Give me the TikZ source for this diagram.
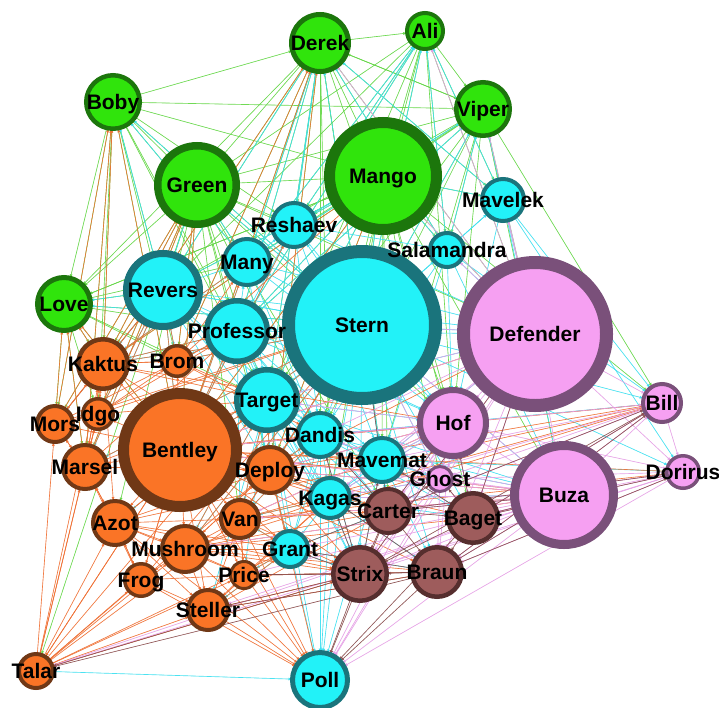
\documentclass[tikz,border=0pt]{standalone}
\usepackage{fontspec}
\setmainfont{Liberation Sans}
\usetikzlibrary{arrows.meta}
\pgfdeclarelayer{edges}
\pgfsetlayers{edges,main}
\definecolor{gF}{RGB}{48,228,12}
\definecolor{gD}{RGB}{28,118,12}
\definecolor{cF}{RGB}{34,242,248}
\definecolor{cD}{RGB}{26,116,124}
\definecolor{oF}{RGB}{250,116,38}
\definecolor{oD}{RGB}{112,56,22}
\definecolor{pF}{RGB}{246,160,242}
\definecolor{pD}{RGB}{122,80,122}
\definecolor{bF}{RGB}{158,92,92}
\definecolor{bD}{RGB}{86,46,46}
\definecolor{eGc}{RGB}{100,215,70}
\definecolor{eCc}{RGB}{60,224,240}
\definecolor{eOc}{RGB}{240,112,52}
\definecolor{ePc}{RGB}{230,160,230}
\definecolor{eBc}{RGB}{140,80,80}
\tikzset{
  nd/.style={circle, inner sep=0pt, outer sep=0pt},
  Gn/.style={nd, fill=gF, draw=gD},
  Cn/.style={nd, fill=cF, draw=cD},
  On/.style={nd, fill=oF, draw=oD},
  Pn/.style={nd, fill=pF, draw=pD},
  Bn/.style={nd, fill=bF, draw=bD},
  lbl/.style={font=\bfseries\fontsize{21}{21}\selectfont, inner sep=0pt, text height=15pt, text depth=0pt, text=black},
  edgebase/.style={line width=0.65pt, opacity=0.9, -{Latex[length=4pt,width=3pt]}},
  eG/.style={edgebase, draw=eGc, fill=eGc},
  eC/.style={edgebase, draw=eCc, fill=eCc},
  eO/.style={edgebase, draw=eOc, fill=eOc},
  eP/.style={edgebase, draw=ePc, fill=ePc},
  eB/.style={edgebase, draw=eBc, fill=eBc},
}
\begin{document}
\begin{tikzpicture}[x=1pt, y=-1pt]
\useasboundingbox (0,0) rectangle (719,707);
\foreach \n/\x/\y/\r/\w/\g in {
 Derek/320/43/31/5/Gn, Ali/425/31/20/4/Gn, Boby/113/102/29/4.5/Gn,
 Viper/483/109/29/4.5/Gn, Green/197/185/43/7.5/Gn, Mango/383/176/59/11/Gn,
 Love/64/304/29/5/Gn,
 Mavelek/503/200/23/4/Cn, Reshaev/294/225/24/4/Cn, Salamandra/447/250/19/4/Cn,
 Many/247/262/25/4/Cn, Stern/362/325/80/13/Cn, Revers/163/290/40/7/Cn,
 Professor/237/331/33/5.5/Cn, Target/267/400/33/5.5/Cn, Dandis/320/435/24/4/Cn,
 Mavemat/382/460/24/4/Cn, Kagas/330/498/22/4/Cn, Grant/290/549/20/4/Cn,
 Poll/320/680/30/5/Cn,
 Defender/535/334/78/13/Pn, Hof/453/423/36/6/Pn, Bill/662/403/21/4/Pn,
 Dorirus/683/472/18/3.5/Pn, Ghost/440/479/14/3/Pn, Buza/564/495/54/9/Pn,
 Carter/388/511/24/4/Bn, Baget/473/518/27/4.5/Bn, Braun/437/572/27/4.5/Bn,
 Strix/360/574/29/4.5/Bn,
 Kaktus/103/364/27/4.5/On, Brom/177/361/17/3.5/On, Mors/55/424/20/4/On,
 Idgo/98/414/17/3.5/On, Bentley/180/450/62/11/On, Marsel/85/467/24/4/On,
 Deploy/270/470/25/4/On, Azot/115/523/24/4/On, Van/240/519/21/4/On,
 Mushroom/185/549/25/4/On, Frog/141/580/18/3.5/On, Price/244/575/15/3/On,
 Steller/208/610/22/4/On, Talar/36/671/19/4/On}
{
  \node[\g, line width=\w pt, minimum size={2*\r*1pt-\w*1pt}] (\n) at (\x,\y) {};
}
\begin{pgfonlayer}{edges}
\fill[white] (0,0) rectangle (719,707);
\foreach \s/\tl in {
 Derek/{Ali,Green,Mango,Reshaev,Many,Revers,Professor,Stern,Target,Love,Salamandra,Mavelek,Viper,Kaktus,Brom,Dandis,Bentley,Deploy,Hof,Defender,Mavemat,Kagas},
 Ali/{Mango,Viper,Stern,Reshaev,Green,Many,Salamandra,Mavelek,Professor,Revers,Defender,Hof,Target,Dandis},
 Boby/{Derek,Green,Mango,Love,Revers,Kaktus,Mors,Marsel,Idgo,Many,Professor,Reshaev,Stern,Brom,Bentley,Target,Viper},
 Viper/{Mango,Stern,Mavelek,Salamandra,Defender,Bill,Buza,Hof,Reshaev,Many,Professor,Green,Revers,Target,Dandis,Mavemat,Derek},
 Green/{Love,Revers,Many,Reshaev,Professor,Stern,Mango,Kaktus,Brom,Target,Bentley,Dandis,Deploy,Defender,Hof,Idgo,Mors,Marsel,Talar,Azot,Van,Carter},
 Mango/{Stern,Salamandra,Mavelek,Reshaev,Many,Professor,Revers,Defender,Target,Dandis,Hof,Mavemat,Kagas,Carter,Bentley,Buza,Bill,Love,Kaktus,Deploy,Ghost,Baget},
 Love/{Revers,Kaktus,Mors,Idgo,Marsel,Bentley,Brom,Professor,Stern,Mango,Many,Target}}
{\foreach \t in \tl {\draw[eG] (\s) -- (\t);}}
\foreach \s/\tl in {
 Stern/{Defender,Hof,Mavemat,Dandis,Kagas,Carter,Baget,Braun,Strix,Grant,Poll,Bentley,Deploy,Van,Target,Professor,Revers,Many,Reshaev,Salamandra,Mavelek,Mango,Green,Derek,Ali,Viper,Buza,Bill,Ghost,Kaktus,Brom,Love,Boby,Mushroom,Azot,Marsel,Dorirus},
 Revers/{Many,Professor,Target,Bentley,Kaktus,Brom,Love,Green,Mango,Stern,Dandis,Deploy,Idgo,Mors,Boby,Derek,Hof,Defender,Kagas,Marsel},
 Professor/{Many,Reshaev,Target,Dandis,Deploy,Bentley,Hof,Defender,Mavemat,Kagas,Grant,Van,Mango,Derek,Ali,Viper,Brom,Kaktus,Carter,Strix},
 Target/{Dandis,Deploy,Bentley,Van,Kagas,Grant,Mavemat,Hof,Carter,Strix,Poll,Defender,Buza,Mushroom,Price,Steller,Mango,Derek},
 Many/{Reshaev,Mango,Derek,Ali,Green,Boby,Dandis,Hof,Defender,Bentley,Kaktus,Target},
 Reshaev/{Mango,Salamandra,Derek,Ali,Viper,Defender,Hof,Dandis,Mavemat,Bentley},
 Dandis/{Mavemat,Kagas,Hof,Carter,Grant,Strix,Poll,Van,Deploy,Ghost,Baget,Buza,Bill},
 Mavemat/{Hof,Ghost,Carter,Baget,Kagas,Braun,Buza,Defender,Strix,Poll,Dorirus},
 Kagas/{Grant,Carter,Strix,Poll,Van,Deploy,Braun,Baget,Ghost,Hof,Buza},
 Grant/{Poll,Strix,Price,Steller,Mushroom,Van,Deploy,Braun,Carter},
 Salamandra/{Mavelek,Defender,Hof,Viper,Ali,Derek,Mango,Buza,Bill,Dandis,Mavemat},
 Mavelek/{Defender,Viper,Ali,Derek,Mango,Bill,Buza,Hof,Dorirus},
 Talar/{Poll}}
{\foreach \t in \tl {\draw[eC] (\s) -- (\t);}}
\foreach \s/\tl in {
 Bentley/{Kaktus,Brom,Mors,Idgo,Marsel,Deploy,Azot,Van,Mushroom,Frog,Price,Steller,Talar,Target,Dandis,Professor,Revers,Love,Boby,Green,Derek,Mango,Stern,Hof,Defender,Buza,Bill,Poll,Kagas,Grant,Carter,Strix,Braun,Baget,Mavemat,Ghost,Dorirus,Many,Reshaev},
 Talar/{Marsel,Mors,Azot,Frog,Mushroom,Steller,Bentley,Idgo,Kaktus,Price,Van,Deploy,Grant,Strix,Target},
 Kaktus/{Boby,Green,Derek,Love,Revers,Brom,Idgo,Mors,Marsel,Professor,Stern,Target,Many,Mango,Deploy,Azot,Hof},
 Marsel/{Boby,Love,Kaktus,Idgo,Mors,Azot,Revers,Green,Professor,Stern,Target,Deploy},
 Mors/{Love,Boby,Kaktus,Idgo,Marsel,Revers,Green,Stern,Professor},
 Idgo/{Kaktus,Brom,Marsel,Revers,Green,Stern,Professor,Target},
 Brom/{Revers,Professor,Green,Many,Stern,Target,Kaktus,Derek,Mango,Dandis},
 Deploy/{Target,Dandis,Van,Kagas,Mavemat,Stern,Hof,Defender,Buza,Bill,Carter,Strix,Poll,Mushroom,Grant,Derek,Mango},
 Azot/{Mushroom,Frog,Marsel,Van,Deploy,Stern,Target,Steller,Poll,Strix,Grant,Price,Bill},
 Van/{Mushroom,Grant,Kagas,Dandis,Target,Stern,Strix,Carter,Price,Poll,Hof,Buza,Bill,Dorirus},
 Mushroom/{Frog,Price,Steller,Deploy,Grant,Strix,Stern,Target,Poll,Kagas,Carter,Braun,Baget,Buza,Bill},
 Frog/{Steller,Price,Azot,Bentley,Marsel,Stern,Poll},
 Price/{Steller,Grant,Strix,Poll,Van,Kagas,Braun},
 Steller/{Poll,Strix,Grant,Braun,Kagas,Carter,Van}}
{\foreach \t in \tl {\draw[eO] (\s) -- (\t);}}
\foreach \s/\tl in {
 Defender/{Hof,Buza,Bill,Dorirus,Ghost,Mavemat,Stern,Baget,Carter,Braun,Strix,Salamandra,Mavelek,Dandis,Kagas,Bentley,Target,Poll,Viper,Mango,Derek,Ali},
 Buza/{Bill,Dorirus,Hof,Ghost,Baget,Braun,Carter,Strix,Poll,Talar,Steller,Mavemat,Kagas,Stern,Bentley,Grant,Price,Mushroom,Deploy,Van},
 Hof/{Ghost,Mavemat,Carter,Baget,Braun,Kagas,Dandis,Bill,Dorirus,Strix,Poll,Deploy,Bentley,Target,Van},
 Bill/{Dorirus,Ghost,Baget,Carter,Braun,Mavemat,Kagas},
 Dorirus/{Baget,Braun,Strix,Carter,Ghost,Poll,Talar},
 Ghost/{Carter,Baget,Kagas,Braun,Strix,Dandis,Stern,Poll}}
{\foreach \t in \tl {\draw[eP] (\s) -- (\t);}}
\foreach \s/\tl in {
 Carter/{Baget,Braun,Strix,Kagas,Ghost,Hof,Buza,Poll,Dorirus,Bill,Grant,Stern,Dandis},
 Baget/{Braun,Buza,Ghost,Hof,Dorirus,Bill,Strix,Poll,Defender,Mavemat},
 Braun/{Strix,Poll,Buza,Dorirus,Bill,Grant,Kagas,Price,Steller,Talar},
 Strix/{Poll,Grant,Kagas,Dandis,Mavemat,Price,Steller,Talar,Bill,Defender}}
{\foreach \t in \tl {\draw[eB] (\s) -- (\t);}}
\end{pgfonlayer}
\foreach \n in {Derek,Ali,Boby,Viper,Green,Mango,Love,Mavelek,Reshaev,Salamandra,
 Many,Stern,Revers,Professor,Target,Dandis,Mavemat,Kagas,Grant,Poll,Defender,Hof,
 Bill,Dorirus,Ghost,Buza,Carter,Baget,Braun,Strix,Kaktus,Brom,Mors,Idgo,Bentley,
 Marsel,Deploy,Azot,Van,Mushroom,Frog,Price,Steller,Talar}
{
  \node[lbl] (\n-l) at (\n) {\n};
}
\end{tikzpicture}
\end{document}
